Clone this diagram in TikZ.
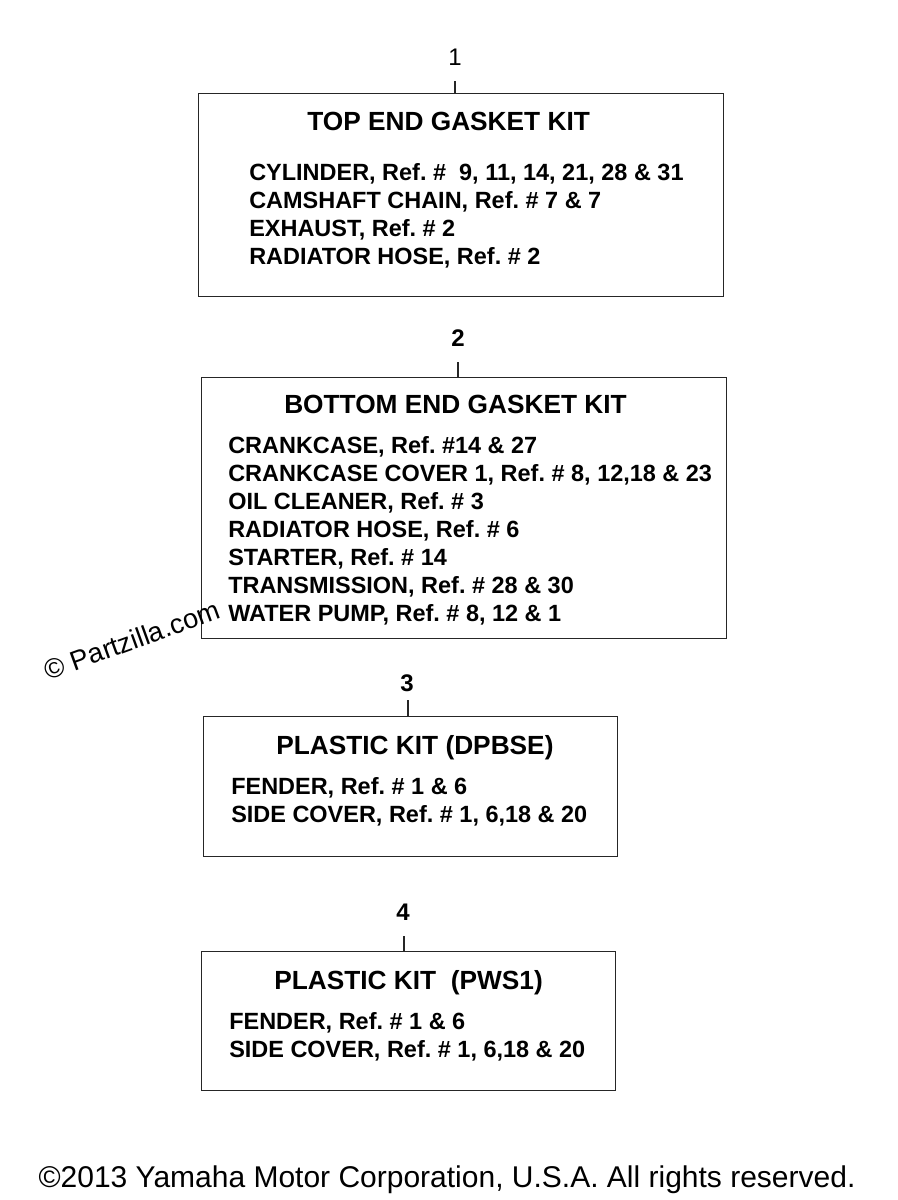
\documentclass[tikz,border=0pt]{standalone}
\usepackage{fontspec}
\setmainfont{Liberation Sans}
\usepackage{tikz}
\usetikzlibrary{positioning, calc}
\frenchspacing
\tikzstyle{kitbox} = [rectangle, draw=black!85, line width=1pt, anchor=north west, inner sep=0pt]
\tikzstyle{kittitle} = [anchor=base west, inner sep=0pt, font=\fontsize{19.7}{24}\selectfont\bfseries]
\tikzstyle{kititem} = [anchor=base west, inner sep=0pt, font=\fontsize{17.6}{21}\selectfont\bfseries]
\tikzstyle{kitnum} = [inner sep=0pt, font=\fontsize{18}{21}\selectfont\bfseries]
\tikzstyle{kittick} = [line width=1pt, black!85]

\begin{document}
\begin{tikzpicture}[x=0.75pt, y=-0.75pt]
	\useasboundingbox (0,0) rectangle (897,1200);

	% Kit boxes
	\node (kit1) [kitbox, minimum width=393.75pt, minimum height=152.25pt] at (198,93) {};
	\node (kit2) [kitbox, minimum width=393.75pt, minimum height=195.75pt] at (201,377) {};
	\node (kit3) [kitbox, minimum width=310.5pt, minimum height=105pt] at (203,716) {};
	\node (kit4) [kitbox, minimum width=310.5pt, minimum height=104.25pt] at (201,951) {};

	% Numbers and ticks
	\node (num1) [kitnum, font=\fontsize{18}{21}\selectfont] at (455,57) {1};
	\node (num2) [kitnum] at (458,338) {2};
	\node (num3) [kitnum] at (407,683) {3};
	\node (num4) [kitnum] at (403,912) {4};
	\coordinate (tick1) at (455,81);
	\coordinate (tick2) at (458,362);
	\coordinate (tick3) at (408,700);
	\coordinate (tick4) at (404,936);
	\draw[kittick] (tick1) -- (tick1 |- kit1.north);
	\draw[kittick] (tick2) -- (tick2 |- kit2.north);
	\draw[kittick] (tick3) -- (tick3 |- kit3.north);
	\draw[kittick] (tick4) -- (tick4 |- kit4.north);

	% Top end
	\node (top) [kittitle] at (307,130) {TOP END GASKET KIT};
	\node (top1) [kititem] at (249,180) {CYLINDER, Ref. \#\ \ 9, 11, 14, 21, 28 \& 31};
	\node (top2) [kititem] at (249,208) {CAMSHAFT CHAIN, Ref. \# 7 \& 7};
	\node (top3) [kititem] at (249,236) {EXHAUST, Ref. \# 2};
	\node (top4) [kititem] at (249,264) {RADIATOR HOSE, Ref. \# 2};

	% Bottom end
	\node (bot) [kittitle] at (284,413) {BOTTOM END GASKET KIT};
	\node (bot1) [kititem] at (228,453) {CRANKCASE, Ref. \#14 \& 27};
	\node (bot2) [kititem] at (228,481) {CRANKCASE COVER 1, Ref. \# 8, 12,18 \& 23};
	\node (bot3) [kititem] at (228,509) {OIL CLEANER, Ref. \# 3};
	\node (bot4) [kititem] at (228,537) {RADIATOR HOSE, Ref. \# 6};
	\node (bot5) [kititem] at (228,565) {STARTER, Ref. \# 14};
	\node (bot6) [kititem] at (228,593) {TRANSMISSION, Ref. \# 28 \& 30};
	\node (bot7) [kititem] at (228,621) {WATER PUMP, Ref. \# 8, 12 \& 1};

	% Plastic kits
	\node (dpb) [kittitle] at (276,754) {PLASTIC KIT (DPBSE)};
	\node (dpb1) [kititem] at (231,794) {FENDER, Ref. \# 1 \& 6};
	\node (dpb2) [kititem] at (231,822) {SIDE COVER, Ref. \# 1, 6,18 \& 20};
	\node (pws) [kittitle] at (274,989) {PLASTIC KIT\ \ (PWS1)};
	\node (pws1) [kititem] at (229,1029) {FENDER, Ref. \# 1 \& 6};
	\node (pws2) [kititem] at (229,1057) {SIDE COVER, Ref. \# 1, 6,18 \& 20};

	% Watermark and footer
	\node (mark) [rotate=20, font=\fontsize{20.5}{24}\selectfont] at (132,640) {© Partzilla.com};
	\node (copy) [anchor=base, font=\fontsize{22.5}{27}\selectfont] at (447,1187) {©2013 Yamaha Motor Corporation, U.S.A. All rights reserved.};

\end{tikzpicture}
\end{document}
